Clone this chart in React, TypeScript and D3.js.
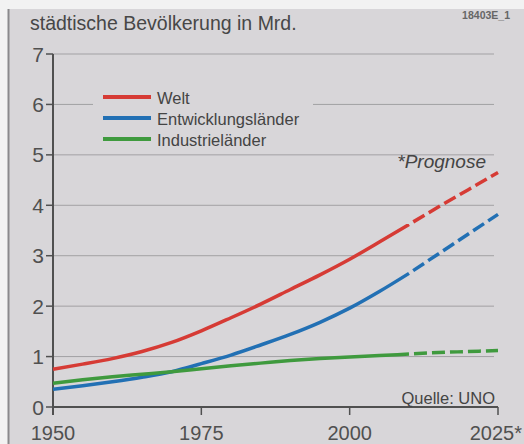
import React from "react";
import * as d3 from "d3";

const years = [1950, 1955, 1960, 1965, 1970, 1975, 1980, 1985, 1990, 1995, 2000, 2005, 2010];
const weltValues = [0.75, 0.85, 0.96, 1.1, 1.28, 1.51, 1.77, 2.04, 2.33, 2.62, 2.93, 3.27, 3.62];
const entwValues = [0.35, 0.42, 0.5, 0.59, 0.7, 0.86, 1.03, 1.23, 1.44, 1.68, 1.96, 2.29, 2.65];
const indValues = [0.47, 0.54, 0.6, 0.65, 0.7, 0.76, 0.82, 0.87, 0.92, 0.96, 0.99, 1.02, 1.05];

const projYears = [2010, 2015, 2020, 2025];
const weltProj = [3.62, 3.97, 4.31, 4.65];
const entwProj = [2.65, 3.04, 3.43, 3.82];
const indProj = [1.05, 1.08, 1.1, 1.12];

const seriesNames = ["Welt", "Entwicklungsländer", "Industrieländer"];
const seriesColors = ["#d63b35", "#2270b4", "#3f9a3e"];
const yTicks = [0, 1, 2, 3, 4, 5, 6, 7];
const xTicks = [1950, 1975, 2000, 2025];
const xTickLabels = ["1950", "1975", "2000", "2025*"];

const FONT = "'Liberation Sans', Arial, Helvetica, sans-serif";

export default function App() {
  const W = 524, H = 444;
  const x = d3.scaleLinear().domain([1950, 2025]).range([53, 498]);
  const y = d3.scaleLinear().domain([0, 7]).range([407, 54]);
  const line = d3
    .line<[number, number]>()
    .x((d) => x(d[0]))
    .y((d) => y(d[1]))
    .curve(d3.curveMonotoneX);

  const solid = [weltValues, entwValues, indValues];
  const proj = [weltProj, entwProj, indProj];

  return (
    <svg
      width={W}
      height={H}
      style={{ position: "absolute", left: 0, top: 0, display: "block" }}
    >
      <rect x={0} y={0} width={W} height={H} fill="#f2f2f2" />
      <rect x={8} y={9} width={W - 8} height={H - 9} fill="#d8d6d9" />
      <line x1={8.5} y1={9} x2={8.5} y2={H} stroke="#8a898c" strokeWidth={2} />

      <text x={30} y={30} fontFamily={FONT} fontSize={19.5} fill="#474747">
        städtische Bevölkerung in Mrd.
      </text>
      <text x={510} y={19} textAnchor="end" fontFamily={FONT} fontSize={10.5} fontWeight="bold" fill="#666">
        18403E_1
      </text>

      {/* gridlines */}
      {yTicks.filter((t) => t > 0).map((t) =>
        t === 6 ? (
          <g key={t}>
            <line x1={x(1950)} x2={93} y1={y(t)} y2={y(t)} stroke="#a2a1a4" strokeWidth={1} />
            <line x1={313} x2={494} y1={y(t)} y2={y(t)} stroke="#a2a1a4" strokeWidth={1} />
          </g>
        ) : (
          <line key={t} x1={x(1950)} x2={494} y1={y(t)} y2={y(t)} stroke="#a2a1a4" strokeWidth={1} />
        )
      )}

      {/* y axis */}
      <line x1={x(1950)} x2={x(1950)} y1={y(7)} y2={y(0) + 8} stroke="#505050" strokeWidth={2} />
      {yTicks.map((t) => (
        <g key={t}>
          <line x1={x(1950) - 7} x2={x(1950)} y1={y(t)} y2={y(t)} stroke="#505050" strokeWidth={1.5} />
          <text x={44} y={y(t) + 7.5} textAnchor="end" fontFamily={FONT} fontSize={21} fill="#505050">
            {t}
          </text>
        </g>
      ))}

      {/* x axis */}
      <line x1={x(1950)} x2={x(2025)} y1={y(0)} y2={y(0)} stroke="#505050" strokeWidth={2} />
      {xTicks.map((t, i) => (
        <g key={t}>
          <line x1={x(t)} x2={x(t)} y1={y(0)} y2={y(0) + 8} stroke="#505050" strokeWidth={1.5} />
          <text
            x={i === 3 ? 522 : x(t)}
            y={440}
            textAnchor={i === 3 ? "end" : "middle"}
            fontFamily={FONT}
            fontSize={20}
            fill="#505050"
          >
            {xTickLabels[i]}
          </text>
        </g>
      ))}

      {/* series */}
      {solid.map((vals, i) => (
        <path
          key={"s" + i}
          d={line(years.map((yr, j) => [yr, vals[j]] as [number, number])) || ""}
          fill="none"
          stroke={seriesColors[i]}
          strokeWidth={3.5}
          strokeLinecap="butt"
        />
      ))}
      {proj.map((vals, i) => (
        <path
          key={"p" + i}
          d={line(projYears.map((yr, j) => [yr, vals[j]] as [number, number])) || ""}
          fill="none"
          stroke={seriesColors[i]}
          strokeWidth={3.5}
          strokeDasharray="13 5"
          strokeDashoffset={13}
        />
      ))}

      {/* legend */}
      {seriesNames.map((name, i) => (
        <g key={name}>
          <line x1={103} x2={151} y1={97 + i * 21} y2={97 + i * 21} stroke={seriesColors[i]} strokeWidth={4} />
          <text x={157} y={104 + i * 21} fontFamily={FONT} fontSize={16.5} fill="#444">
            {name}
          </text>
        </g>
      ))}

      <text x={486} y={168} textAnchor="end" fontFamily={FONT} fontSize={19} fontStyle="italic" fill="#444">
        *Prognose
      </text>
      <text x={495} y={404} textAnchor="end" fontFamily={FONT} fontSize={16.5} fill="#444">
        Quelle: UNO
      </text>
    </svg>
  );
}
